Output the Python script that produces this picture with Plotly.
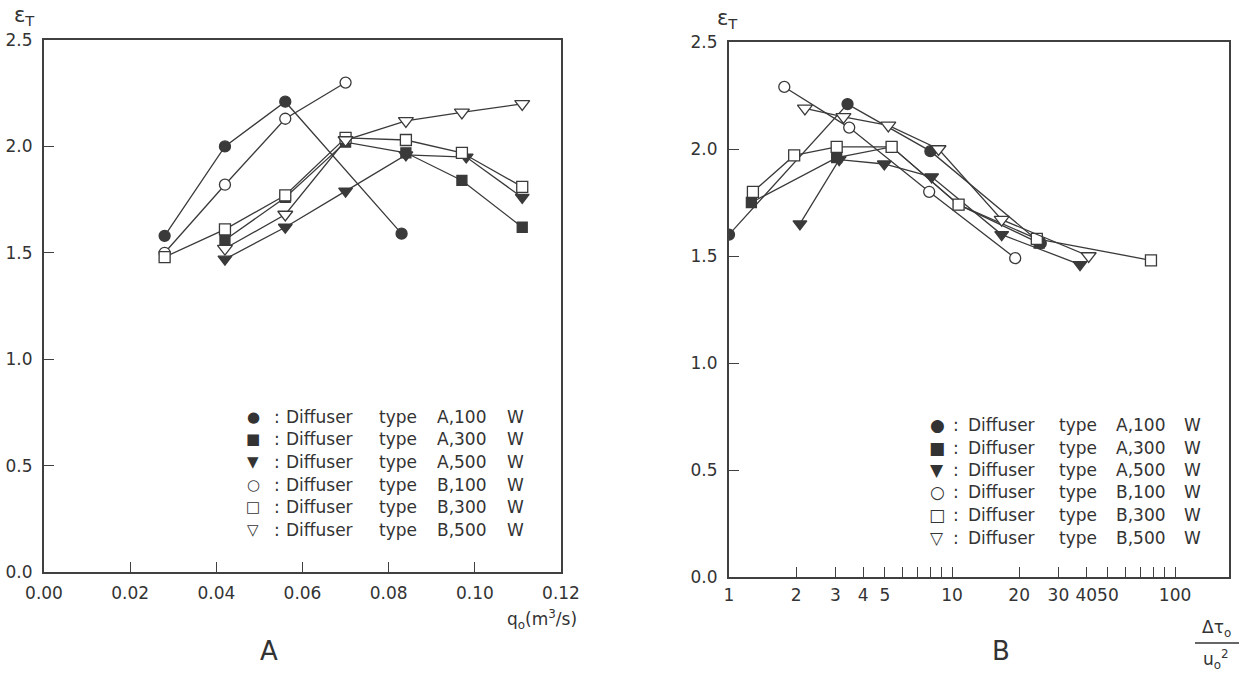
import plotly.graph_objects as go

W, H = 1242, 674

# ---------------- data: panel A (q0 in m3/s) ----------------
qA100 = [0.028, 0.042, 0.056, 0.083]
eA100 = [1.58, 2.00, 2.21, 1.59]
qA300 = [0.042, 0.056, 0.070, 0.084, 0.097, 0.111]
eA300 = [1.56, 1.76, 2.02, 1.97, 1.84, 1.62]
qA500 = [0.042, 0.056, 0.070, 0.084, 0.098, 0.111]
eA500 = [1.47, 1.62, 1.79, 1.96, 1.95, 1.76]
qB100 = [0.028, 0.042, 0.056, 0.070]
eB100 = [1.50, 1.82, 2.13, 2.30]
qB300 = [0.028, 0.042, 0.056, 0.070, 0.084, 0.097, 0.111]
eB300 = [1.48, 1.61, 1.77, 2.04, 2.03, 1.97, 1.81]
qB500 = [0.042, 0.056, 0.070, 0.084, 0.097, 0.111]
eB500 = [1.52, 1.68, 2.03, 2.12, 2.16, 2.20]

# ---------------- data: panel B (dT0/u0^2) ----------------
rA100 = [1.0, 3.4, 8.0, 25.0]
fA100 = [1.60, 2.21, 1.99, 1.56]
rA300 = [1.26, 3.04, 5.36, 10.7, 24.6]
fA300 = [1.75, 1.96, 2.01, 1.74, 1.56]
rA500 = [2.08, 3.12, 4.97, 8.1, 16.7, 37.5]
fA500 = [1.65, 1.95, 1.93, 1.87, 1.60, 1.46]
rB100 = [1.77, 3.46, 7.9, 19.2]
fB100 = [2.29, 2.10, 1.80, 1.49]
rB300 = [1.28, 1.96, 3.04, 5.36, 10.7, 24.0, 78.0]
fB300 = [1.80, 1.97, 2.01, 2.01, 1.74, 1.58, 1.48]
rB500 = [2.19, 3.26, 5.18, 8.7, 16.7, 41.0]
fB500 = [2.19, 2.15, 2.11, 2.00, 1.67, 1.50]

series_labels = ["A,100", "A,300", "A,500", "B,100", "B,300", "B,500"]
legend_glyphs = ["\u25CF", "\u25A0", "\u25BC", "\u25CB", "\u25A1", "\u25BD"]

xticksA = [0.00, 0.02, 0.04, 0.06, 0.08, 0.10, 0.12]
xticktextA = ["0.00", "0.02", "0.04", "0.06", "0.08", "0.10", "0.12"]
xticksB = [1, 2, 3, 4, 5, 10, 20, 30, 40, 50, 100]
xticktextB = ["1", "2", "3", "4", "5", "10", "20", "30", "40", "50", "100"]
xminorB = [6, 7, 8, 9, 60, 70, 80, 90]
yticks = [0.0, 0.5, 1.0, 1.5, 2.0, 2.5]
yticktext = ["0.0", "0.5", "1.0", "1.5", "2.0", "2.5"]

# ---------------- styles ----------------
INK = "#3a3a3a"
FONT = "DejaVu Sans"
styles = [
    dict(symbol="circle", color=INK, size=11),
    dict(symbol="square", color=INK, size=10),
    dict(symbol="triangle-down", color=INK, size=12),
    dict(symbol="circle", color="white", size=11),
    dict(symbol="square", color="white", size=11),
    dict(symbol="triangle-down", color="white", size=13),
]

fig = go.Figure()

def add_series(xs, ys, st, xa, ya):
    fig.add_trace(go.Scatter(
        x=xs, y=ys, mode="lines+markers", xaxis=xa, yaxis=ya,
        line=dict(color=INK, width=1.3),
        marker=dict(symbol=st["symbol"], color=st["color"], size=st["size"],
                    line=dict(color=INK, width=1.3)),
        showlegend=False, hoverinfo="skip"))

left = [(qA100, eA100), (qA300, eA300), (qA500, eA500),
        (qB100, eB100), (qB300, eB300), (qB500, eB500)]
right = [(rA100, fA100), (rA300, fA300), (rA500, fA500),
         (rB100, fB100), (rB300, fB300), (rB500, fB500)]
for (xs, ys), st in zip(left, styles):
    add_series(xs, ys, st, "x", "y")
for (xs, ys), st in zip(right, styles):
    add_series(xs, ys, st, "x2", "y2")

def px(x):
    return x / W

def py(y):
    return 1 - y / H

axis_common = dict(showline=True, linecolor="#404040", linewidth=2, mirror=True,
                   ticks="inside", ticklen=10, tickwidth=1.3, tickcolor="#404040",
                   showgrid=False, zeroline=False, automargin=False, tickangle=0,
                   tickfont=dict(family=FONT, size=17, color="#333"))

fig.update_layout(
    width=W, height=H, margin=dict(l=0, r=0, t=0, b=0, autoexpand=False),
    paper_bgcolor="white", plot_bgcolor="white", showlegend=False,
    xaxis=dict(domain=[px(44), px(561)], range=[0, 0.12], tickvals=xticksA,
               ticktext=xticktextA, anchor="y", ticklabelstandoff=5, **axis_common),
    yaxis=dict(domain=[py(572), py(40)], range=[0, 2.5], tickvals=yticks,
               ticktext=yticktext, anchor="x", ticklabelstandoff=6, **axis_common),
    xaxis2=dict(domain=[px(729), px(1229)], type="log", range=[0, 2.242],
                tickvals=xticksB, ticktext=xticktextB, anchor="y2",
                ticklabelstandoff=2,
                minor=dict(tickvals=xminorB, ticks="inside", ticklen=10,
                           tickwidth=1.3, tickcolor="#404040", showgrid=False),
                **axis_common),
    yaxis2=dict(domain=[py(577), py(42)], range=[0, 2.5], tickvals=yticks,
                ticktext=yticktext, anchor="x2", ticklabelstandoff=6, **axis_common),
)

ann = []
def text(x, y, s, size=17, xanchor="left", yanchor="middle"):
    ann.append(dict(x=px(x), y=py(y), xref="paper", yref="paper", text=s,
                    showarrow=False, xanchor=xanchor, yanchor=yanchor,
                    font=dict(family=FONT, size=size, color="#333")))

# legends
def legend(x0, ys, cols, gsize):
    for i, (glyph, lab) in enumerate(zip(legend_glyphs, series_labels)):
        y = ys[i]
        text(x0, y, glyph, size=gsize, xanchor="center")
        text(cols[0], y, ":")
        text(cols[1], y, "Diffuser")
        text(cols[2], y, "type")
        text(cols[3], y, lab)
        text(cols[4], y, "W")

legend(253, [417, 439.5, 462, 484.5, 507, 529.5], [272, 284, 377, 435, 505], 15)
legend(937, [425, 447.5, 470, 492.5, 515, 537.5], [951, 966, 1057, 1114, 1182], 17)

# axis titles
text(24, 16, "\u03B5<sub>T</sub>", size=21, xanchor="center")
text(727, 19, "\u03B5<sub>T</sub>", size=21, xanchor="center")
text(579, 619, "q<sub>o</sub>(m<sup>3</sup>/s)", size=17, xanchor="right")
text(1216, 628, "\u0394\u03C4<sub>o</sub>", size=17, xanchor="center")
text(1216, 659, "u<sub>o</sub><sup>2</sup>", size=17, xanchor="center")
fig.add_shape(type="line", xref="paper", yref="paper",
              x0=px(1195), x1=px(1239), y0=py(643), y1=py(643),
              line=dict(color="#333", width=1.5))

# panel labels
text(269, 651, "A", size=26, xanchor="center")
text(1001, 651, "B", size=26, xanchor="center")

fig.update_layout(annotations=ann)
fig.write_html("out.html")
